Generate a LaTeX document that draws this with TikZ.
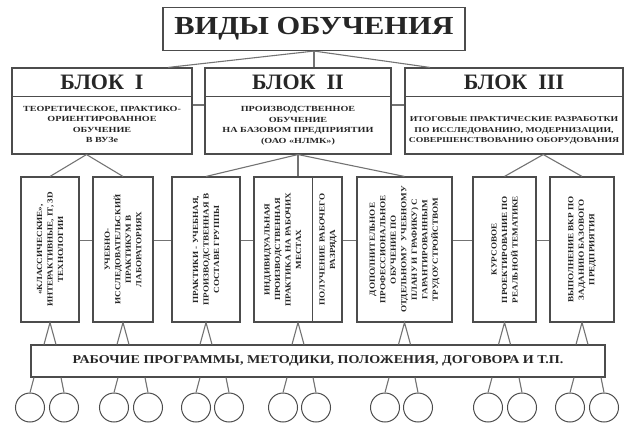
\documentclass[tikz,border=0pt]{standalone}
\usepackage{fontspec}
\setmainfont{Liberation Serif}
\newfontfamily\wideserif[FakeStretch=1.17]{Liberation Serif}
\newfontfamily\smallwide[FakeStretch=1.3]{Liberation Serif}
\usetikzlibrary{calc}

\begin{document}
\begin{tikzpicture}[x=1pt,y=-1pt,
    box/.style={draw=black!70,line width=1.1pt,inner sep=0pt},
    link/.style={draw=black!55,line width=1.1pt},
    circ/.style={circle,draw=black!70,line width=1pt,minimum size=29,inner sep=0pt},
    vtext/.style={rotate=90,align=center,inner sep=0pt,text=black!85,font=\wideserif\fontsize{7.8}{10.5}\selectfont\bfseries},
    btext/.style={align=center,inner sep=0pt,text=black!85,font=\smallwide\fontsize{7.8}{10.5}\selectfont\bfseries},
    hdr/.style={inner sep=0pt,text=black!85,font=\fontsize{22}{22}\selectfont\bfseries}]

    \useasboundingbox (0,0) rectangle (644,430);

    % title and blocks
    \node[box,minimum width=302,minimum height=43,text=black!85,font=\wideserif\fontsize{26}{26}\selectfont\bfseries] (title) at (314,29) {ВИДЫ ОБУЧЕНИЯ};

    \node[box,minimum width=180,minimum height=86] (blk1) at (102,111) {};
    \node[box,minimum width=186,minimum height=86] (blk2) at (298,111) {};
    \node[box,minimum width=218,minimum height=86] (blk3) at (514,111) {};
    \foreach \b/\r in {1/I,2/II,3/III} {
        \draw[box] ($(blk\b.north west)+(0,29)$) -- ($(blk\b.north east)+(0,29)$);
        \node[hdr] (hdr\b) at ($(blk\b.north)+(0,15)$) {БЛОК~~\r};
    }
    \node[btext] (txt1) at ($(blk1.south)+(0,-30)$) {ТЕОРЕТИЧЕСКОЕ, ПРАКТИКО-\\ОРИЕНТИРОВАННОЕ\\ОБУЧЕНИЕ\\В ВУЗе};
    \node[btext] (txt2) at ($(blk2.south)+(0,-29)$) {ПРОИЗВОДСТВЕННОЕ\\ОБУЧЕНИЕ\\НА БАЗОВОМ ПРЕДПРИЯТИИ\\(ОАО «НЛМК»)};
    \node[btext,font=\smallwide\fontsize{7.5}{10.5}\selectfont\bfseries] (txt3) at ($(blk3.south)+(0,-24)$) {ИТОГОВЫЕ ПРАКТИЧЕСКИЕ РАЗРАБОТКИ\\ПО ИССЛЕДОВАНИЮ, МОДЕРНИЗАЦИИ,\\СОВЕРШЕНСТВОВАНИЮ ОБОРУДОВАНИЯ};

    \draw[link] (title.south) -- ($(blk1.north)+(66,0)$);
    \draw[link] (title.south) -- (title.south |- blk2.north);
    \draw[link] (title.south) -- ($(blk3.north)+(-84,0)$);
    \draw[link] ([yshift=6pt]blk1.east) -- ([yshift=6pt]blk2.west);
    \draw[link] ([yshift=6pt]blk2.east) -- ([yshift=6pt]blk3.west);

    % vertical boxes
    \foreach \n/\x/\w in {v1/50/58,v2/123/60,v3/206/68,v4/298/88,v6/404.5/95,v7/504.5/63,v8/582/64}
        \node[box,minimum width=\w,minimum height=145] (\n) at (\x,249.5) {};
    \draw[box] ($(v4.north west)+(59,0)$) -- ($(v4.south west)+(59,0)$);
    \foreach \a/\b in {v1/v2,v2/v3,v3/v4,v4/v6,v6/v7,v7/v8}
        \draw[link] ([yshift=9pt]\a.east) -- ([yshift=9pt]\b.west);

    \node[vtext] (vt1) at (v1) {«КЛАССИЧЕСКИЕ»,\\ИНТЕРАКТИВНЫЕ, IT, 3D\\ТЕХНОЛОГИИ};
    \node[vtext] (vt2) at (v2) {УЧЕБНО-\\ИССЛЕДОВАТЕЛЬСКИЙ\\ПРАКТИКУМ В\\ЛАБОРАТОРИЯХ};
    \node[vtext] (vt3) at (v3) {ПРАКТИКИ - УЧЕБНАЯ,\\ПРОИЗВОДСТВЕННАЯ В\\СОСТАВЕ ГРУППЫ};
    \node[vtext] (vt4) at ($(v4.west)+(29.5,0)$) {ИНДИВИДУАЛЬНАЯ\\ПРОИЗВОДСТВЕННАЯ\\ПРАКТИКА НА РАБОЧИХ\\МЕСТАХ};
    \node[vtext] (vt5) at ($(v4.east)+(-14.5,0)$) {ПОЛУЧЕНИЕ РАБОЧЕГО\\РАЗРЯДА};
    \node[vtext] (vt6) at (v6) {ДОПОЛНИТЕЛЬНОЕ\\ПРОФЕССИОНАЛЬНОЕ\\ОБУЧЕНИЕ ПО\\ОТДЕЛЬНОМУ~~УЧЕБНОМУ\\ПЛАНУ И ГРАФИКУ) С\\ГАРАНТИРОВАННЫМ\\ТРУДОУСТРОЙСТВОМ};
    \node[vtext] (vt7) at (v7) {КУРСОВОЕ\\ПРОЕКТИРОВАНИЕ ПО\\РЕАЛЬНОЙ ТЕМАТИКЕ};
    \node[vtext] (vt8) at (v8) {ВЫПОЛНЕНИЕ ВКР ПО\\ЗАДАНИЮ БАЗОВОГО\\ПРЕДПРИЯТИЯ};

    % blocks to boxes
    \path (v1.north) -- (v2.north) coordinate[midway] (m1);
    \path (v7.north) -- (v8.north) coordinate[midway] (m3);
    \coordinate (a1) at (m1 |- blk1.south);
    \coordinate (a3) at (m3 |- blk3.south);
    \draw[link] (v1.north) -- (a1) -- (v2.north);
    \draw[link] (v3.north) -- (blk2.south) -- (v6.north);
    \draw[link] (blk2.south) -- (v4.north);
    \draw[link] (v7.north) -- (a3) -- (v8.north);

    % bottom bar and circles
    \node[box,minimum width=574,minimum height=32,text=black!85,font=\wideserif\fontsize{12}{12}\selectfont\bfseries] (bar) at (318,361) {РАБОЧИЕ ПРОГРАММЫ, МЕТОДИКИ, ПОЛОЖЕНИЯ, ДОГОВОРА И Т.П.};

    \foreach \n in {v1,v2,v3,v4,v6,v7,v8}
        \draw[link] ($(\n.south |- bar.north)+(-6,0)$) -- (\n.south) -- ($(\n.south |- bar.north)+(6,0)$);

    \foreach \i/\a/\b in {1/30/64,2/114/148,3/196/229,4/283/316,5/385/418,6/488/522,7/570/604} {
        \node[circ] (ca\i) at (\a,407.5) {};
        \node[circ] (cb\i) at (\b,407.5) {};
        \draw[link] ($(ca\i.north |- bar.south)+(4,0)$) -- (ca\i.north);
        \draw[link] ($(cb\i.north |- bar.south)+(-3,0)$) -- (cb\i.north);
    }
\end{tikzpicture}
\end{document}
